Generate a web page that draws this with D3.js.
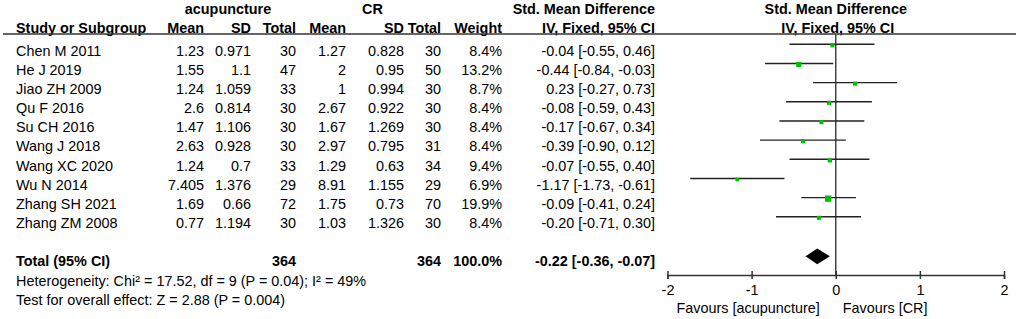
<!DOCTYPE html>
<html>
<head>
<meta charset="utf-8">
<script src="https://cdn.jsdelivr.net/npm/d3@7"></script>
<style>
  body { margin: 0; background: #fff; }
  svg { display: block; font-family: Arial, "Liberation Sans", sans-serif; }
</style>
</head>
<body>
<svg id="chart" width="1021" height="319"></svg>
<script>
// study data
const studies = ['Chen M 2011', 'He J 2019', 'Jiao ZH 2009', 'Qu F 2016', 'Su CH 2016',
  'Wang J 2018', 'Wang XC 2020', 'Wu N 2014', 'Zhang SH 2021', 'Zhang ZM 2008'];
const acuMean = ['1.23', '1.55', '1.24', '2.6', '1.47', '2.63', '1.24', '7.405', '1.69', '0.77'];
const acuSD = ['0.971', '1.1', '1.059', '0.814', '1.106', '0.928', '0.7', '1.376', '0.66', '1.194'];
const acuTotal = [30, 47, 33, 30, 30, 30, 33, 29, 72, 30];
const crMean = ['1.27', '2', '1', '2.67', '1.67', '2.97', '1.29', '8.91', '1.75', '1.03'];
const crSD = ['0.828', '0.95', '0.994', '0.922', '1.269', '0.795', '0.63', '1.155', '0.73', '1.326'];
const crTotal = [30, 50, 30, 30, 30, 31, 34, 29, 70, 30];
const weights = [8.4, 13.2, 8.7, 8.4, 8.4, 8.4, 9.4, 6.9, 19.9, 8.4];
const smd = [-0.04, -0.44, 0.23, -0.08, -0.17, -0.39, -0.07, -1.17, -0.09, -0.20];
const lower = [-0.55, -0.84, -0.27, -0.59, -0.67, -0.90, -0.55, -1.73, -0.41, -0.71];
const upper = [0.46, -0.03, 0.73, 0.43, 0.34, 0.12, 0.40, -0.61, 0.24, 0.30];

// pooled result
const pooled = { smd: -0.22, lower: -0.36, upper: -0.07, acuTotal: 364, crTotal: 364, weight: '100.0%' };
const heterogeneity = 'Heterogeneity: Chi\u00b2 = 17.52, df = 9 (P = 0.04); I\u00b2 = 49%';
const overallEffect = 'Test for overall effect: Z = 2.88 (P = 0.004)';
const axisTicks = [-2, -1, 0, 1, 2];
const favourLeft = 'Favours [acupuncture]';
const favourRight = 'Favours [CR]';

const svg = d3.select('#chart');
// plain hyphen as minus sign, like RevMan
const locale = d3.formatLocale({ decimal: '.', thousands: ',', grouping: [3], currency: ['', ''], minus: '-' });
const fmt = locale.format('.2f');
const fmtInt = locale.format('d');
const fmtCI = (m, l, u) => `${fmt(m)} [${fmt(l)}, ${fmt(u)}]`;
const FS = '14.4px';

// row baselines
const rowY = d3.scaleLinear().domain([0, 9]).range([55.5, 228]);
// forest x scale
const x = d3.scaleLinear().domain([-2, 2]).range([667.5, 1004]);

// right edges of the table columns
const col = { study: 16, acuMean: 204, acuSD: 251, acuTotal: 296, crMean: 346, crSD: 404, crTotal: 441, weight: 502, ci: 655 };

function txt(g, xPos, y, s, anchor, bold) {
  return g.append('text')
    .attr('x', xPos)
    .attr('y', y)
    .attr('text-anchor', anchor || 'end')
    .style('font-size', FS)
    .style('font-weight', bold ? 'bold' : 'normal')
    .attr('fill', '#000')
    .text(s);
}

// headers
const head = svg.append('g');
txt(head, 228, 14, 'acupuncture', 'middle', true);
txt(head, 372.5, 14, 'CR', 'middle', true);
txt(head, col.ci, 14, 'Std. Mean Difference', 'end', true);
txt(head, x(0), 14, 'Std. Mean Difference', 'middle', true);
txt(head, col.study, 32.5, 'Study or Subgroup', 'start', true);
txt(head, col.acuMean, 32.5, 'Mean', 'end', true);
txt(head, col.acuSD, 32.5, 'SD', 'end', true);
txt(head, col.acuTotal, 32.5, 'Total', 'end', true);
txt(head, col.crMean, 32.5, 'Mean', 'end', true);
txt(head, col.crSD, 32.5, 'SD', 'end', true);
txt(head, col.crTotal, 32.5, 'Total', 'end', true);
txt(head, col.weight, 32.5, 'Weight', 'end', true);
txt(head, col.ci, 32.5, 'IV, Fixed, 95% CI', 'end', true);
txt(head, x(0) + 2, 32.5, 'IV, Fixed, 95% CI', 'middle', true);

head.append('line')
  .attr('x1', 3).attr('x2', 1016)
  .attr('y1', 34).attr('y2', 34)
  .attr('stroke', '#333')
  .attr('stroke-width', 1.5);

// table rows
const table = svg.append('g');
studies.forEach((s, i) => {
  const y = rowY(i);
  txt(table, col.study, y, s, 'start');
  txt(table, col.acuMean, y, acuMean[i]);
  txt(table, col.acuSD, y, acuSD[i]);
  txt(table, col.acuTotal, y, acuTotal[i]);
  txt(table, col.crMean, y, crMean[i]);
  txt(table, col.crSD, y, crSD[i]);
  txt(table, col.crTotal, y, crTotal[i]);
  txt(table, col.weight, y, weights[i].toFixed(1) + '%');
  txt(table, col.ci, y, fmtCI(smd[i], lower[i], upper[i]));
});

// total rows
const totY = rowY(11);
txt(table, col.study, totY, 'Total (95% CI)', 'start', true);
txt(table, col.acuTotal, totY, pooled.acuTotal, 'end', true);
txt(table, col.crTotal, totY, pooled.crTotal, 'end', true);
txt(table, col.weight, totY, pooled.weight, 'end', true);
txt(table, col.ci, totY, fmtCI(pooled.smd, pooled.lower, pooled.upper), 'end', true);
txt(table, col.study, rowY(12), heterogeneity, 'start');
txt(table, col.study, rowY(13), overallEffect, 'start');

// forest plot
const plot = svg.append('g');
const axisY = 275;

plot.append('line')
  .attr('x1', x(0)).attr('x2', x(0))
  .attr('y1', 34).attr('y2', axisY)
  .attr('stroke', '#444')
  .attr('stroke-width', 1.5);

const rows = plot.selectAll('.study')
  .data(studies.map((s, i) => ({ s, i, m: smd[i], l: lower[i], u: upper[i], w: weights[i] })))
  .join('g')
  .attr('class', 'study');

rows.append('line')
  .attr('x1', d => x(d.l))
  .attr('x2', d => x(d.u))
  .attr('y1', d => rowY(d.i) - 11.2)
  .attr('y2', d => rowY(d.i) - 11.2)
  .attr('stroke', '#222')
  .attr('stroke-width', 1.4);

const side = d => 1.42 * Math.sqrt(d.w);
rows.append('rect')
  .attr('x', d => x(d.m) - side(d) / 2)
  .attr('y', d => rowY(d.i) - 10.2 - side(d) / 2)
  .attr('width', side)
  .attr('height', side)
  .attr('fill', '#00c000');

// pooled diamond
const dy = totY - 10;
plot.append('path')
  .attr('d', `M${x(pooled.lower)},${dy} L${x(pooled.smd)},${dy - 7.8} L${x(pooled.upper)},${dy} L${x(pooled.smd)},${dy + 7.8} Z`)
  .attr('fill', '#000');

// axis
const axis = plot.append('g')
  .attr('transform', `translate(0,${axisY})`)
  .call(d3.axisBottom(x).tickValues(axisTicks).tickSize(4).tickPadding(6).tickFormat(fmtInt));
axis.select('.domain').attr('stroke', '#333').attr('stroke-width', 1.5);
axis.selectAll('.tick line').attr('y1', -4).attr('stroke', '#333').attr('stroke-width', 1.5);
axis.selectAll('.tick text')
  .style('font-size', FS)
  .style('font-family', 'Arial, "Liberation Sans", sans-serif')
  .attr('fill', '#000');

txt(plot, x(0) - 16, 312.5, favourLeft, 'end');
txt(plot, x(0) + 7, 312.5, favourRight, 'start');
</script>
</body>
</html>
